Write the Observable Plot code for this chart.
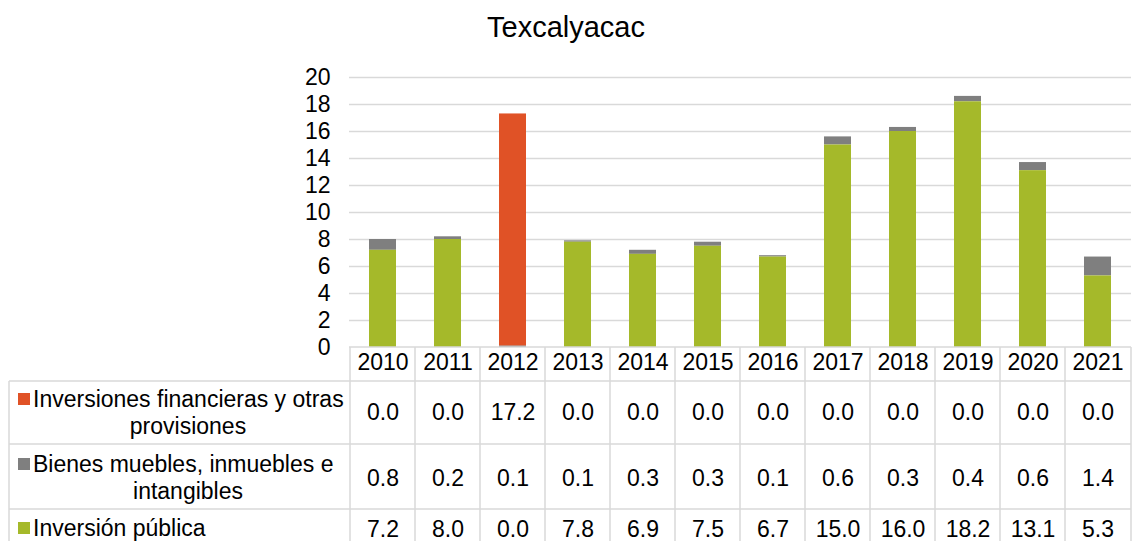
<!DOCTYPE html>
<html><head><meta charset="utf-8">
<script src="https://cdn.jsdelivr.net/npm/d3@7"></script>
<script src="https://cdn.jsdelivr.net/npm/@observablehq/plot@0.6"></script>
<style>
body{margin:0;background:#fff;font-family:"Liberation Sans",Arial,sans-serif;}
#title{height:50px;width:1132px;text-align:center;font-size:29px;line-height:54px;color:#000;}
#chart svg{display:block;}
</style></head><body>
<div id="title">Texcalyacac</div>
<div id="chart"></div>
<script>
const years = ["2010","2011","2012","2013","2014","2015","2016","2017","2018","2019","2020","2021"];
const seriesNames = ["Inversiones financieras y otras provisiones","Bienes muebles, inmuebles e intangibles","Inversión pública"];
const seriesLines = [["Inversiones financieras y otras","provisiones"],["Bienes muebles, inmuebles e","intangibles"],["Inversión pública"]];
const inversionesFinancieras = [0.0,0.0,17.2,0.0,0.0,0.0,0.0,0.0,0.0,0.0,0.0,0.0];
const bienesMuebles = [0.8,0.2,0.1,0.1,0.3,0.3,0.1,0.6,0.3,0.4,0.6,1.4];
const inversionPublica = [7.2,8.0,0.0,7.8,6.9,7.5,6.7,15.0,16.0,18.2,13.1,5.3];
const yTicks = [0,2,4,6,8,10,12,14,16,18,20];
const colors = ["#E05226","#7F7F7F","#A5B92A"];

const seriesValues = [inversionesFinancieras, bienesMuebles, inversionPublica];
const data = [];
years.forEach((yr, i) => {
  seriesNames.forEach((s, k) => data.push({year: yr, series: s, value: seriesValues[k][i]}));
});

const W = 1132, H = 491, MB = 194;
const font = '"Liberation Sans", Arial, sans-serif';
const FS = 23;
const rowDy = [72, 138, 189];

const plot = Plot.plot({
  width: W, height: H,
  marginLeft: 349, marginRight: 1, marginTop: 27, marginBottom: MB,
  style: {fontFamily: font, fontSize: FS + "px", color: "#000", background: "#fff", overflow: "visible"},
  x: {domain: years, padding: 0, axis: null},
  y: {domain: [0, 20], label: null},
  color: {domain: seriesNames, range: colors},
  marks: [
    Plot.gridY(yTicks.filter(d => d > 0), {stroke: "#d9d9d9", strokeOpacity: 1, strokeWidth: 1.5}),
    Plot.axisY(yTicks, {tickSize: 0, tickPadding: 19, fontSize: FS, label: null, tickFormat: d => String(d), fill: "#000"}),
    Plot.barY(data, {x: "year", y: "value", fill: "series", z: "series",
      order: [seriesNames[2], seriesNames[1], seriesNames[0]], insetLeft: 19, insetRight: 19}),
    Plot.text(years, {x: d => d, text: d => d, frameAnchor: "bottom", dy: 22, fontSize: FS, fill: "#000"}),
    ...seriesNames.map((s, k) => Plot.text(data.filter(d => d.series === s), {
      x: "year", text: d => d.value.toFixed(1), frameAnchor: "bottom", dy: rowDy[k], fontSize: FS, fill: "#000"
    }))
  ]
});
document.getElementById("chart").appendChild(plot);

// table grid drawn from the Plot x scale
const xs = plot.scale("x");
const x0 = xs.range[0], x1 = xs.range[1];
const yb = H - MB;
const svg = d3.select(plot);
const g = svg.append("g").attr("stroke", "#d9d9d9").attr("stroke-width", 1.5).attr("fill", "none");
const left = 9;
const hLines = [[yb, x0], [yb + 34, left], [yb + 97, left], [yb + 162, left]];
hLines.forEach(([y, xa]) => g.append("line").attr("x1", xa).attr("x2", x1).attr("y1", y).attr("y2", y));
years.forEach(yr => { const xx = xs.apply(yr); g.append("line").attr("x1", xx).attr("x2", xx).attr("y1", yb).attr("y2", H); });
g.append("line").attr("x1", x1).attr("x2", x1).attr("y1", yb).attr("y2", H);
g.append("line").attr("x1", left).attr("x2", left).attr("y1", yb + 34).attr("y2", H);

// legend labels
const lineY = [[yb + 52, yb + 79], [yb + 117, yb + 144], [yb + 181]];
const lg = svg.append("g").attr("font-family", font).attr("font-size", FS).attr("fill", "#000");
seriesLines.forEach((lines, k) => {
  lg.append("rect").attr("x", 18).attr("y", lineY[k][0] - 6).attr("width", 12).attr("height", 12).attr("fill", colors[k]);
  lines.forEach((t, j) => {
    lg.append("text").attr("x", j === 0 ? 33 : 188).attr("y", lineY[k][j])
      .attr("dy", "0.35em").attr("text-anchor", j === 0 ? "start" : "middle").text(t);
  });
});
</script>
</body></html>
